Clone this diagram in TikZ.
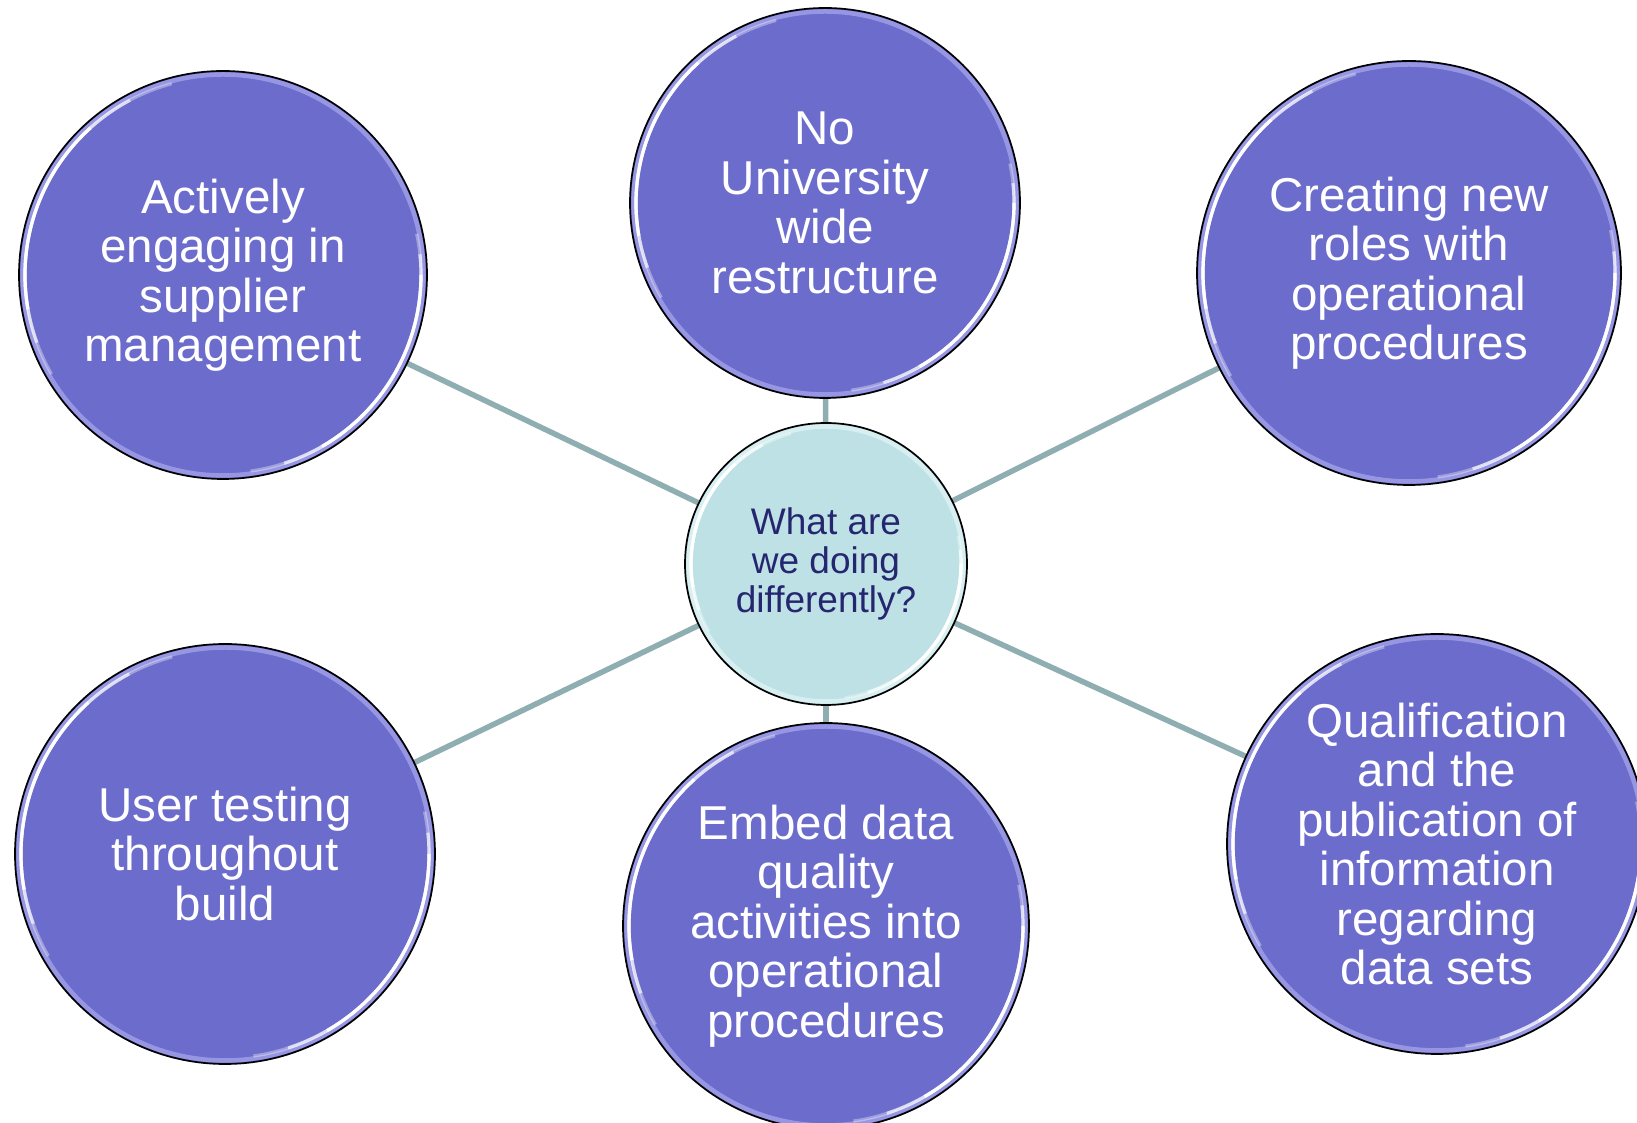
\documentclass[tikz,border=0pt]{standalone}
\usepackage{fontspec}
\setmainfont{Liberation Sans}
\pgfdeclarelayer{bg}
\pgfsetlayers{bg,main}
\definecolor{bubble}{RGB}{108,108,204}
\definecolor{rim}{RGB}{165,165,236}
\definecolor{hubfill}{RGB}{189,225,228}
\definecolor{hubrim}{RGB}{225,244,246}
\definecolor{hubtext}{RGB}{38,38,112}
\definecolor{spoke}{RGB}{142,174,178}
\newcommand{\glossy}[3]{% node name, radius (pt), rim colour
  \draw[#3, line width=4.5pt, opacity=0.75] (#1.center) circle[radius=#2pt-3.5pt];
  \foreach \a/\b/\o in {105/210/0.35,118/200/0.65,132/190/1}{
    \draw[white, line width=3.2pt, opacity=\o] ([shift={(\a:#2pt-6pt)}]#1.center) arc[start angle=\a, end angle=\b, radius=#2pt-6pt];
  }
  \foreach \a/\b/\o in {-82/12/0.35,-72/6/0.65,-60/0/1}{
    \draw[white, line width=3.2pt, opacity=\o] ([shift={(\a:#2pt-6pt)}]#1.center) arc[start angle=\a, end angle=\b, radius=#2pt-6pt];
  }
  \draw[black, line width=1.7pt] (#1.center) circle[radius=#2pt];
}
\tikzset{
  bubble/.style={circle, fill=bubble, inner sep=0pt, align=center, text=white,
    font=\fontsize{47.5}{49.5}\selectfont},
  hub/.style={circle, fill=hubfill, inner sep=0pt, align=center, text=hubtext,
    font=\fontsize{37}{39}\selectfont},
  spokeline/.style={spoke, line width=5.5pt}
}
\begin{document}
\begin{tikzpicture}[x=1pt,y=1pt]
\useasboundingbox (0,0) rectangle (1637,1123);
\clip (0,0) rectangle (1637,1123);

\node[hub, minimum size=282pt] (hub) at (826,559) {What are\\we doing\\differently?};
\node[bubble, minimum size=390pt] (top) at (825,920) {No\\University\\wide\\restructure};
\node[bubble, minimum size=408pt] (tl) at (223,848) {Actively\\engaging in\\supplier\\management};
\node[bubble, minimum size=424pt] (tr) at (1409,850) {Creating new\\roles with\\operational\\procedures};
\node[bubble, minimum size=420pt] (bl) at (225,269) {User testing\\throughout\\build};
\node[bubble, minimum size=406pt] (bc) at (826,197) {Embed data\\quality\\activities into\\operational\\procedures};
\node[bubble, minimum size=420pt] (br) at (1437,279) {Qualification\\and the\\publication of\\information\\regarding\\data sets};

\glossy{hub}{141}{hubrim}
\glossy{top}{195}{rim}
\glossy{tl}{204}{rim}
\glossy{tr}{212}{rim}
\glossy{bl}{210}{rim}
\glossy{bc}{203}{rim}
\glossy{br}{210}{rim}

\begin{pgfonlayer}{bg}
\draw[spokeline] (hub) -- (top);
\draw[spokeline] (hub) -- (tl);
\draw[spokeline] (hub) -- (tr);
\draw[spokeline] (hub) -- (bl);
\draw[spokeline] (hub) -- (bc);
\draw[spokeline] (hub) -- (br);
\end{pgfonlayer}
\end{tikzpicture}
\end{document}
